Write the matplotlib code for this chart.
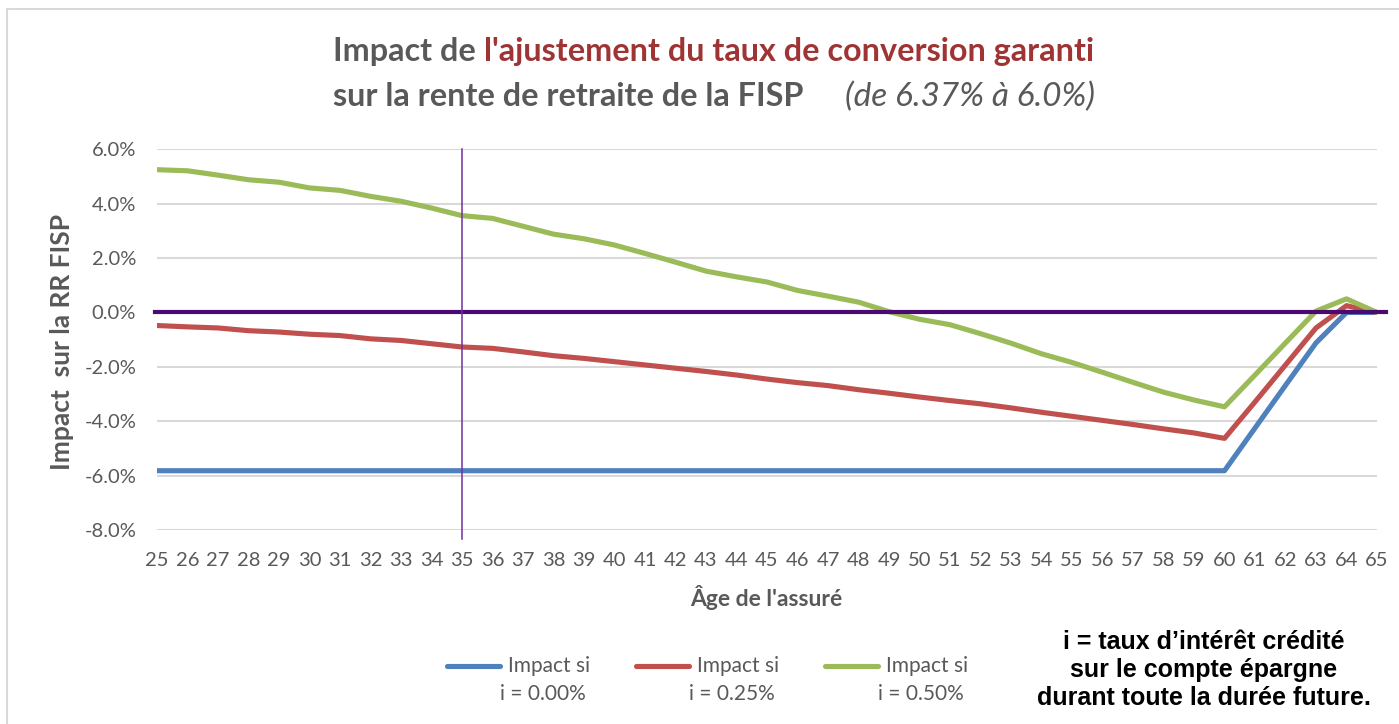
import matplotlib.pyplot as plt
import matplotlib.patches as patches
from matplotlib.lines import Line2D
from matplotlib.ticker import FuncFormatter

W, H = 1399, 724

ages = list(range(25, 66))

# Impact on the FISP pension (in %)
impact_000 = [-5.82, -5.82, -5.82, -5.82, -5.82, -5.82, -5.82, -5.82, -5.82, -5.82,
              -5.82, -5.82, -5.82, -5.82, -5.82, -5.82, -5.82, -5.82, -5.82, -5.82,
              -5.82, -5.82, -5.82, -5.82, -5.82, -5.82, -5.82, -5.82, -5.82, -5.82,
              -5.82, -5.82, -5.82, -5.82, -5.82, -5.82, -4.25, -2.68, -1.12, 0.0, 0.0]
impact_025 = [-0.48, -0.53, -0.57, -0.67, -0.72, -0.80, -0.85, -0.97, -1.03, -1.15,
              -1.27, -1.32, -1.45, -1.59, -1.69, -1.81, -1.93, -2.05, -2.17, -2.30,
              -2.45, -2.58, -2.69, -2.84, -2.97, -3.11, -3.24, -3.36, -3.51, -3.67,
              -3.82, -3.97, -4.12, -4.28, -4.43, -4.63, -3.29, -1.93, -0.57, 0.25, 0.0]
impact_050 = [5.25, 5.21, 5.05, 4.88, 4.79, 4.58, 4.49, 4.27, 4.09, 3.84,
              3.56, 3.46, 3.17, 2.88, 2.71, 2.48, 2.17, 1.85, 1.52, 1.31,
              1.12, 0.81, 0.60, 0.38, 0.03, -0.25, -0.45, -0.78, -1.13, -1.52,
              -1.84, -2.20, -2.57, -2.93, -3.22, -3.47, -2.30, -1.12, 0.05, 0.50, 0.0]

series = [impact_000, impact_025, impact_050]
series_labels = ['i = 0.00%', 'i = 0.25%', 'i = 0.50%']
colors = ['#4F81BD', '#C0504D', '#9BBB59']
y_ticks = [-8, -6, -4, -2, 0, 2, 4, 6]
marker_age = 35

gray = '#595959'
plt.rcParams['font.family'] = ['Lato', 'DejaVu Sans']

fig = plt.figure(figsize=(W / 100, H / 100), dpi=100)

# light frame of the chart area
fig.patches.append(patches.Rectangle((7 / W, -0.5), 2, 1.5 - 9 / H, transform=fig.transFigure,
                                     fill=False, edgecolor='#D9D9D9', linewidth=1.5))

ax = fig.add_axes([157 / W, 1 - 530 / H, (1377 - 157) / W, (530 - 149.3) / H])

for vals, c in zip(series, colors):
    ax.plot(ages, vals, color=c, lw=3.7, solid_joinstyle='round', solid_capstyle='round', zorder=3)

ax.axhline(0, xmin=-0.002, xmax=1.007, color='#4B0A72', lw=3.0, zorder=4, clip_on=False)
ax.axvline(marker_age, ymin=-0.024, ymax=1, color='#7030A0', lw=1.1, zorder=5, clip_on=False)

ax.set_xlim(25, 65)
ax.set_ylim(-8, 6)
ax.set_xticks(ages)
ax.set_yticks(y_ticks)
ax.yaxis.set_major_formatter(FuncFormatter(lambda v, p: '%.1f%%' % v))
ax.grid(axis='y', color='#D9D9D9', lw=1.5, zorder=0)
ax.set_axisbelow(True)
for s in ax.spines.values():
    s.set_visible(False)
ax.tick_params(axis='both', length=0, colors=gray, labelsize=14.5)
ax.tick_params(axis='y', pad=15)
ax.tick_params(axis='x', pad=16)

# axis titles
fig.text(62 / W, 1 - 342 / H, 'Impact  sur la RR FISP', rotation=90, ha='center', va='center',
         fontsize=19, fontweight='bold', color=gray)
fig.text(766 / W, 1 - 598 / H, "Âge de l'assuré", ha='center', va='center',
         fontsize=16.5, fontweight='bold', color=gray)

# title with coloured part
renderer = fig.canvas.get_renderer()


def put_pieces(x_px, y_px, pieces):
    for s, kw in pieces:
        t = fig.text(x_px / W, 1 - y_px / H, s, ha='left', va='center', **kw)
        x_px += t.get_window_extent(renderer=renderer).width


put_pieces(333, 52, [('Impact de ', dict(fontsize=23.3, fontweight='bold', color=gray)),
                     ("l'ajustement du taux de conversion garanti",
                      dict(fontsize=23.3, fontweight='bold', color='#9E3434'))])
put_pieces(333, 97, [('sur la rente de retraite de la FISP', dict(fontsize=23.3, fontweight='bold', color=gray))])
put_pieces(845, 97, [('(de 6.37% à 6.0%)', dict(fontsize=24, style='italic', color=gray))])

# legend
leg_x = [447, 636, 825]
for x0, c, lab in zip(leg_x, colors, series_labels):
    fig.add_artist(Line2D([x0 / W, (x0 + 53) / W], [1 - 666 / H, 1 - 666 / H], color=c, lw=3.7,
                          solid_capstyle='round', transform=fig.transFigure))
    fig.text((x0 + 61) / W, 1 - 666 / H, 'Impact si', ha='left', va='center', fontsize=15, color=gray)
    fig.text((x0 + 96) / W, 1 - 694 / H, lab, ha='center', va='center', fontsize=15, color=gray)

fig.text(1204 / W, 1 - 670 / H,
         'i = taux d\u2019intérêt crédité\nsur le compte épargne\ndurant toute la durée future.',
         ha='center', va='center', multialignment='center', linespacing=1.2,
         fontsize=18, fontweight='bold', color='black', family=['Liberation Sans', 'DejaVu Sans'])

fig.savefig('out.png', dpi=100)
